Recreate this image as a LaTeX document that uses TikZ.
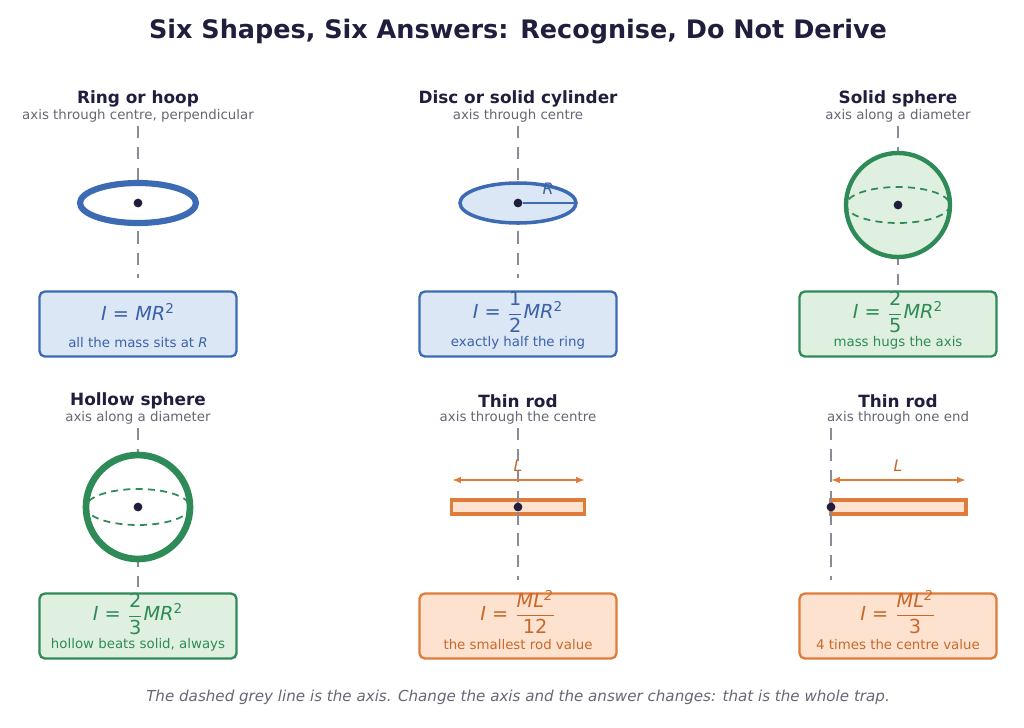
\documentclass[tikz,border=0pt]{standalone}
\usepackage{fontspec}
\usepackage{amsmath}
\setmainfont{DejaVu Sans}
\usetikzlibrary{arrows.meta}
\definecolor{ink}{HTML}{1F1F3D}
\definecolor{sub}{HTML}{666675}
\definecolor{axisc}{HTML}{8A8A98}
\definecolor{bE}{HTML}{3D6BB3}\definecolor{bF}{HTML}{DCE7F5}\definecolor{bT}{HTML}{3A62A8}
\definecolor{gE}{HTML}{2E8B57}\definecolor{gF}{HTML}{E0F0E0}\definecolor{gT}{HTML}{2E8B57}
\definecolor{oE}{HTML}{E07B39}\definecolor{oF}{HTML}{FDE2D0}\definecolor{oT}{HTML}{C8692B}
\newcommand{\fr}[2]{$\dfrac{\text{#1}}{\text{#2}}$}
\newcommand{\sq}{$^{\text{2}}$}
\begin{document}
\begin{tikzpicture}[x=0.02cm,y=-0.02cm,
 ttl/.style={font=\bfseries\fontsize{9.6}{11}\selectfont,text=ink},
 subt/.style={font=\fontsize{7.6}{9}\selectfont,text=sub},
 axis/.style={axisc,line width=1.4pt,dash pattern=on 7pt off 5pt},
 box/.style={draw=#1E,fill=#1F,rounded corners=3pt,line width=1.3pt,minimum width=3.94cm,minimum height=1.3cm},
 frm/.style={font=\fontsize{11}{13}\selectfont,text=#1T},
 note/.style={font=\fontsize{7.6}{9}\selectfont,text=#1T},
 dot/.style={circle,fill=ink,inner sep=0pt,minimum size=5pt},
 dim/.style={oE,line width=1pt,{Latex[length=5pt]}-{Latex[length=5pt]}}]
\useasboundingbox (0,0) rectangle (1024,727);
\node[font=\bfseries\fontsize{14.5}{17}\selectfont,text=ink] (title) at (518,32) {Six Shapes, Six Answers: Recognise, Do Not Derive};
% ---- Ring
\node[ttl] (t1) at (138,99) {Ring or hoop};
\node[subt] (s1) at (138,116) {axis through centre, perpendicular};
\coordinate (a1t) at (138,126); \coordinate (a1b) at (138,278);
\draw[axis] (a1t) -- (a1b);
\draw[bE,fill=white,line width=3.5pt] (138,203) ellipse (58 and 20);
\node[dot] (c1) at (138,203) {};
\node[box=b] (b1) at (138,324) {};
\node[frm=b] (f1) at (138,312) {\textit{I} = \textit{MR}\sq};
\node[note=b] (n1) at (138,343) {all the mass sits at \textit{R}};
% ---- Disc
\node[ttl] (t2) at (518,99) {Disc or solid cylinder};
\node[subt] (s2) at (518,116) {axis through centre};
\coordinate (a2t) at (518,126); \coordinate (a2b) at (518,278);
\draw[axis] (a2t) -- (a2b);
\draw[bE,fill=bF,line width=2pt] (518,203) ellipse (58 and 20);
\node[dot] (c2) at (518,203) {};
\coordinate (r2) at (576,203);
\draw[bE,line width=1.5pt] (c2) -- (r2);
\node[text=bT,font=\fontsize{9}{11}\selectfont\itshape] (R2) at (548,189) {R};
\node[box=b] (b2) at (518,324) {};
\node[frm=b] (f2) at (518,312) {\textit{I} = \fr{1}{2}\textit{MR}\sq};
\node[note=b] (n2) at (518,343) {exactly half the ring};
% ---- Solid sphere
\node[ttl] (t3) at (898,99) {Solid sphere};
\node[subt] (s3) at (898,116) {axis along a diameter};
\coordinate (a3t) at (898,126); \coordinate (a3b) at (898,285);
\draw[axis] (a3t) -- (a3b);
\draw[gE,fill=gF,line width=2.5pt] (898,205) circle (52);
\draw[gE,line width=1pt,dash pattern=on 4pt off 3pt] (898,205) ellipse (52 and 18);
\node[dot] (c3) at (898,205) {};
\node[box=g] (b3) at (898,324) {};
\node[frm=g] (f3) at (898,312) {\textit{I} = \fr{2}{5}\textit{MR}\sq};
\node[note=g] (n3) at (898,343) {mass hugs the axis};
% ---- Hollow sphere
\node[ttl] (t4) at (138,401) {Hollow sphere};
\node[subt] (s4) at (138,418) {axis along a diameter};
\coordinate (a4t) at (138,428); \coordinate (a4b) at (138,587);
\draw[axis] (a4t) -- (a4b);
\draw[gE,fill=white,line width=3.8pt] (138,507) circle (52);
\draw[gE,line width=1pt,dash pattern=on 4pt off 3pt] (138,507) ellipse (52 and 18);
\node[dot] (c4) at (138,507) {};
\node[box=g] (b4) at (138,626) {};
\node[frm=g] (f4) at (138,614) {\textit{I} = \fr{2}{3}\textit{MR}\sq};
\node[note=g] (n4) at (138,645) {hollow beats solid, always};
% ---- Thin rod centre
\node[ttl] (t5) at (518,401) {Thin rod};
\node[subt] (s5) at (518,418) {axis through the centre};
\node[draw=oE,fill=oF,line width=2pt,minimum width=2.66cm,minimum height=0.28cm,inner sep=0pt] (rod5) at (518,507) {};
\coordinate (a5t) at (518,428); \coordinate (a5b) at (518,580);
\draw[axis] (a5t) -- (a5b);
\node[dot] (c5) at (518,507) {};
\coordinate (l5a) at (452,480); \coordinate (l5b) at (585,480);
\draw[dim] (l5a) -- (l5b);
\node[text=oT,font=\fontsize{9}{11}\selectfont\itshape] (L5) at (518,466) {L};
\node[box=o] (b5) at (518,626) {};
\node[frm=o] (f5) at (518,612) {\textit{I} = \fr{\itshape ML\textsuperscript{2}}{12}};
\node[note=o] (n5) at (518,645) {the smallest rod value};
% ---- Thin rod end
\node[ttl] (t6) at (898,401) {Thin rod};
\node[subt] (s6) at (898,418) {axis through one end};
\node[draw=oE,fill=oF,line width=2pt,minimum width=2.7cm,minimum height=0.28cm,inner sep=0pt] (rod6) at (898.5,507) {};
\coordinate (a6t) at (831,428); \coordinate (a6b) at (831,580);
\draw[axis] (a6t) -- (a6b);
\node[dot] (c6) at (831,507) {};
\coordinate (l6a) at (831,480); \coordinate (l6b) at (966,480);
\draw[dim] (l6a) -- (l6b);
\node[text=oT,font=\fontsize{9}{11}\selectfont\itshape] (L6) at (898,466) {L};
\node[box=o] (b6) at (898,626) {};
\node[frm=o] (f6) at (898,612) {\textit{I} = \fr{\itshape ML\textsuperscript{2}}{3}};
\node[note=o] (n6) at (898,645) {4 times the centre value};
% footer
\node[font=\itshape\fontsize{8.6}{10}\selectfont,text=sub] (foot) at (518,697) {The dashed grey line is the axis. Change the axis and the answer changes: that is the whole trap.};
\end{tikzpicture}
\end{document}
